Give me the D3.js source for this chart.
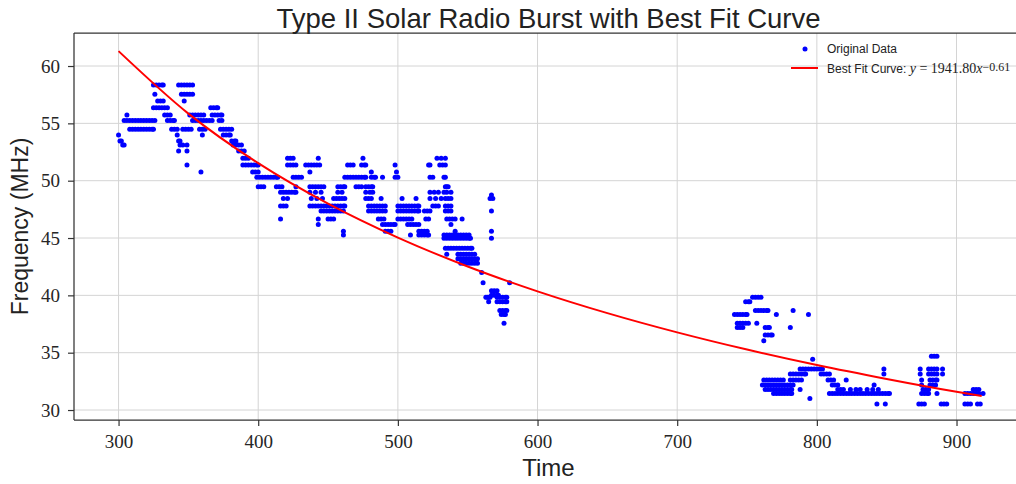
<!DOCTYPE html>
<html>
<head>
<meta charset="utf-8">
<script src="https://cdn.jsdelivr.net/npm/d3@7"></script>
<style>
  body { margin: 0; background: #fff; }
</style>
</head>
<body>
<svg id="chart" width="1016" height="484"></svg>
<script>
// observed burst points, grouped by frequency channel: [MHz, [times]]
const burstRows = [
  [58.34, [325,327,329,331,332, 343,345,347,349,351,353]],
  [57.53, [326, 345,347,349,351,353]],
  [56.95, [328,330,332, 347]],
  [56.37, [325,327,329,331,333,335, 366,368,370,371]],
  [55.73, [306, 333,335,337, 351,353,355,357,359,361, 367,369,371,373,374]],
  [55.26, [304,306,308,310,312,314,316,318,320,322,324,326, 335,337,339,340, 353,355,357,359,361,363,365,367, 372,374]],
  [54.48, [308,310,312,314,316,318,320,322,324,325, 338,340,342, 346,348,350, 352, 358,360,362, 373,375,377,379,381]],
  [53.98, [300, 342, 360, 375,377,379,380]],
  [53.46, [301,302, 343,344, 381,383,384]],
  [53.11, [303,304, 344,346, 349, 382,384,386,388]],
  [52.59, [343, 349, 386,388,390]],
  [51.95, [389,391,393, 421,423,425, 443, 475, 528, 531,534]],
  [51.37, [349, 389,391,393,395,397,399,400, 421,423,425,427, 434,436,438,440,442,444, 464,466,468, 474,476,477, 498, 522,523, 530,532,534]],
  [50.75, [359, 396,398,400, 437, 481, 499]],
  [50.30, [399,401,403,405,407,409,411,413,414, 425,427,429,431, 462,464,466,468,470,472,474,476,477, 481,483,484, 489, 498,500, 523,525, 533,534]],
  [49.47, [400,402,404, 413,415,417, 427, 437,439,441,443,445,447, 457,459,461,462, 470,472,474, 477,479,481,482, 534,535,536]],
  [49.00, [416,418,420,422,424,426,427, 437,441,445, 457,460, 477,480,482, 523,526,529,533, 535,538]],
  [48.75, [567]],
  [48.45, [418,421, 438,442,446, 454,456,458,460,462, 477,479,481, 488, 503, 513, 523,527,531, 534,536,538, 566,568]],
  [47.79, [416,418,420, 437,439,441,443,445,447,449,451,453,455,457,459,461,462, 479,481,483,485,487,489,491, 500,502,504,506,508,510,512,514,515, 525,527,529, 534,536,538]],
  [47.35, [445,447,449,451,453,455,457,459,461, 479,481,483,485,487,489,491, 500,502,504,506,508,510,512,514,515, 519,521,523, 534,536,538, 567]],
  [46.65, [416, 443, 450,452,454, 486,488,490, 500,502,504,506,508,510, 520,522, 535,537,539,541, 546]],
  [46.19, [443, 489,491,493,495,497,498, 507,509,511,513,515, 538]],
  [45.60, [461, 491,493,495, 515,517,519,521, 541, 567]],
  [45.26, [461, 509, 515,517,519,521,522, 533,535,537,539,541,543,545,547,549,551]],
  [44.97, [533,535,537,539,541,543,545,547,549,551,552, 567]],
  [44.10, [534,536,538,540,542,544,546,548,550,552,553]],
  [43.58, [535, 543,545,547,549,551,553,555]],
  [43.20, [543,545,547,549,551,553,555,557]],
  [42.80, [545,547,549,551,553,555,557]],
  [42.00, [560]],
  [41.10, [561, 580]],
  [40.40, [567,569,571]],
  [40.00, [567,569,571,572]],
  [39.83, [563,564,565,566, 571,573,575,577,578, 754,756,758,760]],
  [39.45, [565, 571,573,575,577,578, 749,751,752]],
  [38.68, [573,575,577,578, 756,758,760,762,764,765, 783]],
  [38.34, [574,576,577, 741,743,745,747,749,750, 771, 794]],
  [37.56, [576, 743,745,747,749,751, 757]],
  [37.20, [743,745,747, 763,765,766, 781]],
  [36.54, [763,765,767,768]],
  [36.04, [762]],
  [34.70, [882,884,886]],
  [34.42, [797]],
  [33.58, [788,790,792,794,796,798,800,802,804, 848, 874, 880,882,884,886, 890]],
  [33.14, [781,783,785,787,789,791,792, 803,805,807,809, 848, 874, 880,882,884,886, 890]],
  [32.62, [762,764,766,768,770,772,774,776, 781,783,785,787,789, 808,810,812, 821, 875, 881,883,885,886]],
  [32.18, [761,763,765,767,769,771,773,775,777,779,781,783, 811,813,815, 841, 875, 881,883,885]],
  [31.80, [763,765,767,769,771,773,775,777,779,781,782, 788, 815,817,819, 824,828,831,836,840,844, 876,878,880, 912,914,916]],
  [31.45, [769,771,773,775,777,779,781,782, 809,811,813,815,817,819,821,823,825,827,829,831,833,835,837,839,841,843,845,847,849,851,852, 875,877,879,880, 886, 906,908,910,912,914,916, 919]],
  [31.00, [795]],
  [30.52, [843, 849, 873,875,877, 889,891,893, 906,908,910, 915,917]]
];

// best fit curve, sampled
const fitTimes = [300, 350, 400, 450, 500, 550, 600, 650, 700, 750, 800, 850, 900, 918];
const fitFreqs = [61.30, 55.85, 51.53, 48.00, 45.04, 42.52, 40.35, 38.45, 36.77, 35.27, 33.92, 32.71, 31.59, 31.22];

const xTicks = [300, 400, 500, 600, 700, 800, 900];
const yTicks = [30, 35, 40, 45, 50, 55, 60];

const svg = d3.select("#chart");
const plotLeft = 74, plotRight = 1023, plotTop = 33, plotBottom = 420;

const x = d3.scaleLinear().domain([268.1, 947.6]).range([plotLeft, plotRight]);
const y = d3.scaleLinear().domain([29.13, 62.88]).range([plotBottom, plotTop]);

const points = [];
burstRows.forEach(function(r) {
  r[1].forEach(function(t) { points.push({t: t, f: r[0]}); });
});

// grid
svg.append("g").selectAll("line").data(xTicks).enter().append("line")
  .attr("x1", d => x(d)).attr("x2", d => x(d))
  .attr("y1", plotTop).attr("y2", plotBottom)
  .attr("stroke", "#d4d4d4").attr("stroke-width", 1);
svg.append("g").selectAll("line").data(yTicks).enter().append("line")
  .attr("x1", plotLeft).attr("x2", plotRight)
  .attr("y1", d => y(d)).attr("y2", d => y(d))
  .attr("stroke", "#d4d4d4").attr("stroke-width", 1);

// axes
const xAxis = svg.append("g")
  .attr("transform", "translate(0," + plotBottom + ")")
  .call(d3.axisBottom(x).tickValues(xTicks).tickSize(6).tickPadding(9).tickFormat(d3.format("d")));
const yAxis = svg.append("g")
  .attr("transform", "translate(" + plotLeft + ",0)")
  .call(d3.axisLeft(y).tickValues(yTicks).tickSize(6).tickPadding(8).tickFormat(d3.format("d")));
[xAxis, yAxis].forEach(function(a) {
  a.select(".domain").remove();
  a.selectAll(".tick line").attr("stroke", "#333").attr("stroke-width", 1.2);
  a.selectAll(".tick text")
    .attr("font-family", "Liberation Serif, Times New Roman, serif")
    .attr("font-size", 19).attr("fill", "#262626");
});

// spines
svg.append("line").attr("x1", plotLeft).attr("x2", plotLeft).attr("y1", plotTop).attr("y2", plotBottom)
  .attr("stroke", "#333").attr("stroke-width", 1.25);
svg.append("line").attr("x1", plotLeft).attr("x2", plotRight).attr("y1", plotBottom).attr("y2", plotBottom)
  .attr("stroke", "#333").attr("stroke-width", 1.25);
svg.append("line").attr("x1", plotLeft).attr("x2", plotRight).attr("y1", plotTop).attr("y2", plotTop)
  .attr("stroke", "#333").attr("stroke-width", 1.25);

// data points
svg.append("g").selectAll("circle").data(points).enter().append("circle")
  .attr("cx", d => x(d.t))
  .attr("cy", d => y(d.f))
  .attr("r", 2.5)
  .attr("fill", "#0000ff");

// fit curve
const fitLine = d3.line().x(d => x(d[0])).y(d => y(d[1])).curve(d3.curveMonotoneX);
svg.append("path")
  .datum(fitTimes.map((t, i) => [t, fitFreqs[i]]))
  .attr("d", fitLine)
  .attr("fill", "none").attr("stroke", "#ff0000").attr("stroke-width", 2);

// title & labels
const sans = "Liberation Sans, Arial, sans-serif";
svg.append("text")
  .attr("x", (plotLeft + plotRight) / 2).attr("y", 28)
  .attr("text-anchor", "middle")
  .attr("font-family", sans).attr("font-size", 27.5).attr("fill", "#222")
  .text("Type II Solar Radio Burst with Best Fit Curve");
svg.append("text")
  .attr("x", (plotLeft + plotRight) / 2).attr("y", 476)
  .attr("text-anchor", "middle")
  .attr("font-family", sans).attr("font-size", 24).attr("fill", "#222")
  .text("Time");
svg.append("text")
  .attr("transform", "translate(28," + ((plotTop + plotBottom) / 2) + ") rotate(-90)")
  .attr("text-anchor", "middle")
  .attr("font-family", sans).attr("font-size", 23).attr("fill", "#222")
  .text("Frequency (MHz)");

// legend
const legend = svg.append("g").attr("transform", "translate(791,0)");
legend.append("circle").attr("cx", 14).attr("cy", 49).attr("r", 2.5).attr("fill", "#0000ff");
legend.append("text").attr("x", 36).attr("y", 53)
  .attr("font-family", sans).attr("font-size", 12).attr("fill", "#222")
  .text("Original Data");
legend.append("line").attr("x1", 0).attr("x2", 27).attr("y1", 68).attr("y2", 68)
  .attr("stroke", "#ff0000").attr("stroke-width", 2);
const lt = legend.append("text").attr("x", 36).attr("y", 73)
  .attr("font-family", sans).attr("font-size", 12).attr("fill", "#222");
lt.append("tspan").text("Best Fit Curve: ");
lt.append("tspan").attr("font-family", "Liberation Serif, serif").attr("font-size", 14).attr("font-style", "italic").text("y");
lt.append("tspan").attr("font-family", "Liberation Serif, serif").attr("font-size", 14).text(" = 1941.80");
lt.append("tspan").attr("font-family", "Liberation Serif, serif").attr("font-size", 14).attr("font-style", "italic").text("x");
lt.append("tspan").attr("font-family", "Liberation Serif, serif").attr("font-size", 12).attr("dy", -2).text("−0.61");
</script>
</body>
</html>
